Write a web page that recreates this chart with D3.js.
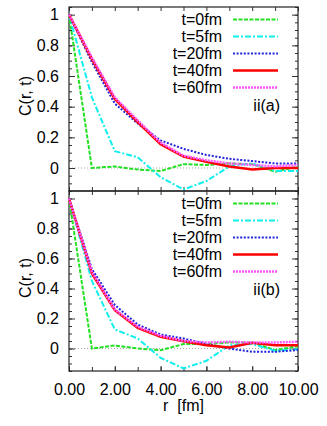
<!DOCTYPE html>
<html>
<head>
<meta charset="utf-8">
<script src="https://cdn.jsdelivr.net/npm/d3@7"></script>
<style>
  body { margin: 0; background: #fff; }
  text { font-family: "Liberation Sans", Arial, Helvetica, sans-serif; font-size: 16px; fill: #000; }
</style>
</head>
<body>
<script>
// distancias r en fm
var rValues = [0, 1, 2, 3, 4, 5, 6, 7, 8, 9, 10];

// nombres de las series (leyenda)
var seriesNames = ["t=0fm", "t=5fm", "t=20fm", "t=40fm", "t=60fm"];

// panel ii(a)
var a_t0  = [1, 0.00, 0.010, -0.010, -0.020, 0.025, 0.020, 0.030, 0.025, -0.025, 0.010];
var a_t5  = [1, 0.46, 0.110, 0.070, -0.060, -0.140, -0.085, 0.010, 0.030, -0.020, -0.020];
var a_t20 = [1, 0.69, 0.420, 0.290, 0.180, 0.125, 0.085, 0.060, 0.045, 0.030, 0.030];
var a_t40 = [1, 0.71, 0.450, 0.300, 0.155, 0.075, 0.040, 0.010, -0.010, 0.000, 0.000];
var a_t60 = [1, 0.72, 0.460, 0.310, 0.165, 0.080, 0.050, 0.030, 0.020, 0.010, 0.020];

// panel ii(b)
var b_t0  = [1, 0.00, 0.020, 0.000, -0.012, 0.030, 0.030, 0.040, 0.040, -0.010, 0.015];
var b_t5  = [1, 0.45, 0.127, 0.067, -0.062, -0.133, -0.082, 0.022, 0.030, -0.015, -0.005];
var b_t20 = [1, 0.53, 0.290, 0.160, 0.093, 0.067, 0.030, 0.000, -0.022, -0.022, -0.010];
var b_t40 = [1, 0.50, 0.255, 0.138, 0.078, 0.049, 0.022, 0.007, 0.038, 0.022, 0.022];
var b_t60 = [1, 0.51, 0.260, 0.145, 0.085, 0.050, 0.040, 0.045, 0.040, 0.040, 0.045];

// marcas de los ejes
var xTickValues = [0, 2, 4, 6, 8, 10];
var xTickLabels = ["0.00", "2.00", "4.00", "6.00", "8.00", "10.00"];
var yTickValues = [0, 0.2, 0.4, 0.6, 0.8, 1];
var yTickLabels = ["0", "0.2", "0.4", "0.6", "0.8", "1"];

// estilos de cada serie
var estilos = [
  { color: "#22e022", dash: "4,1.5", width: 2 },
  { color: "#11eeee", dash: "6,2,2,2", width: 2 },
  { color: "#2222dd", dash: "2,1.6", width: 2 },
  { color: "#ff0000", dash: null, width: 2.5 },
  { color: "#ff55ff", dash: "2,1", width: 2.5 }
];

var vis = {
  width: 327,
  height: 426,
  left: 69,
  right: 298
};

var paneles = [
  { top: 7, bottom: 191, tag: "ii(a)", series: [a_t0, a_t5, a_t20, a_t40, a_t60] },
  { top: 191, bottom: 371, tag: "ii(b)", series: [b_t0, b_t5, b_t20, b_t40, b_t60] }
];

var svg = d3.select("body")
  .append("svg")
  .attr("width", vis.width)
  .attr("height", vis.height);

var x = d3.scaleLinear().domain([0, 10]).range([vis.left, vis.right]);

paneles.forEach(function(p, pi) {
  var y = d3.scaleLinear().domain([-0.15, 1.05]).range([p.bottom, p.top]);
  var g = svg.append("g");

  // linea gris en cero
  g.append("line")
    .attr("x1", vis.left).attr("x2", vis.right)
    .attr("y1", y(0)).attr("y2", y(0))
    .attr("stroke", "#aaa").attr("stroke-width", 1)
    .attr("stroke-dasharray", "1,2");

  // marcas menores del eje y (izq y der)
  var yMinor = d3.range(-0.15, 1.051, 0.05).map(function(v) { return +v.toFixed(2); });
  g.append("g").attr("transform", "translate(" + vis.left + ",0)")
    .call(d3.axisLeft(y).tickValues(yMinor).tickSizeInner(-3).tickSizeOuter(0).tickFormat(""));
  g.append("g").attr("transform", "translate(" + vis.right + ",0)")
    .call(d3.axisRight(y).tickValues(yMinor).tickSizeInner(-3).tickSizeOuter(0).tickFormat(""));

  // marcas mayores con etiquetas
  g.append("g").attr("class", "yaxis").attr("transform", "translate(" + vis.left + ",0)")
    .call(d3.axisLeft(y).tickValues(yTickValues).tickSizeInner(-6).tickSizeOuter(0).tickPadding(10)
      .tickFormat(function(d, i) { return yTickLabels[i]; }));
  g.append("g").attr("transform", "translate(" + vis.right + ",0)")
    .call(d3.axisRight(y).tickValues(yTickValues).tickSizeInner(-6).tickSizeOuter(0).tickFormat(""));

  // marcas del eje x arriba y abajo
  g.append("g").attr("transform", "translate(0," + p.top + ")")
    .call(d3.axisTop(x).ticks(10).tickSizeInner(-4).tickSizeOuter(0).tickFormat(""));
  var bottomAxis = d3.axisBottom(x).ticks(10).tickSizeInner(-4).tickSizeOuter(0).tickFormat("");
  if (pi == 1) {
    bottomAxis = d3.axisBottom(x).tickValues(xTickValues).tickSizeInner(-5).tickSizeOuter(0).tickPadding(13)
      .tickFormat(function(d, i) { return xTickLabels[i]; });
    g.append("g").attr("transform", "translate(0," + p.bottom + ")")
      .call(d3.axisBottom(x).ticks(10).tickSizeInner(-4).tickSizeOuter(0).tickFormat(""));
  }
  g.append("g").attr("class", "xaxis").attr("transform", "translate(0," + p.bottom + ")")
    .call(bottomAxis);

  g.selectAll(".domain").remove();
  g.selectAll(".tick line").attr("stroke", "#333");
  g.selectAll(".tick text").attr("font-size", 16).attr("fill", "#000")
    .attr("font-family", "Liberation Sans, Arial, sans-serif");

  // marco del panel
  g.append("rect")
    .attr("x", vis.left).attr("y", p.top)
    .attr("width", vis.right - vis.left).attr("height", p.bottom - p.top)
    .attr("fill", "none").attr("stroke", "#222").attr("stroke-width", 1.2);

  // las curvas
  var linea = d3.line()
    .x(function(d, i) { return x(rValues[i]); })
    .y(function(d) { return y(d); });

  g.selectAll("path.serie")
    .data(p.series)
    .enter()
    .append("path")
    .attr("class", "serie")
    .attr("d", linea)
    .attr("fill", "none")
    .attr("stroke", function(d, i) { return estilos[i].color; })
    .attr("stroke-width", function(d, i) { return estilos[i].width; })
    .attr("stroke-dasharray", function(d, i) { return estilos[i].dash; });

  // leyenda
  var ley = g.selectAll("g.ley")
    .data(seriesNames)
    .enter()
    .append("g")
    .attr("class", "ley")
    .attr("transform", function(d, i) { return "translate(0," + (p.top + 12.5 + i * 17) + ")"; });
  ley.append("text")
    .attr("x", 222).attr("y", 5.5)
    .attr("text-anchor", "end")
    .text(function(d) { return d; });
  ley.append("line")
    .attr("x1", 233).attr("x2", 278)
    .attr("y1", 0).attr("y2", 0)
    .attr("stroke", function(d, i) { return estilos[i].color; })
    .attr("stroke-width", function(d, i) { return estilos[i].width; })
    .attr("stroke-dasharray", function(d, i) { return estilos[i].dash; });

  g.append("text")
    .attr("x", 280).attr("y", p.top + 104)
    .attr("text-anchor", "end")
    .text(p.tag);

  // titulo del eje y
  g.append("text")
    .attr("transform", "translate(31," + ((p.top + p.bottom) / 2 - 3) + ") rotate(-90)")
    .attr("text-anchor", "middle")
    .text("C(r, t)");
});

// titulo del eje x
svg.append("text")
  .attr("x", (vis.left + vis.right) / 2)
  .attr("y", 411)
  .attr("text-anchor", "middle")
  .attr("xml:space", "preserve")
  .style("white-space", "pre")
  .text("r  [fm]");
</script>
</body>
</html>
